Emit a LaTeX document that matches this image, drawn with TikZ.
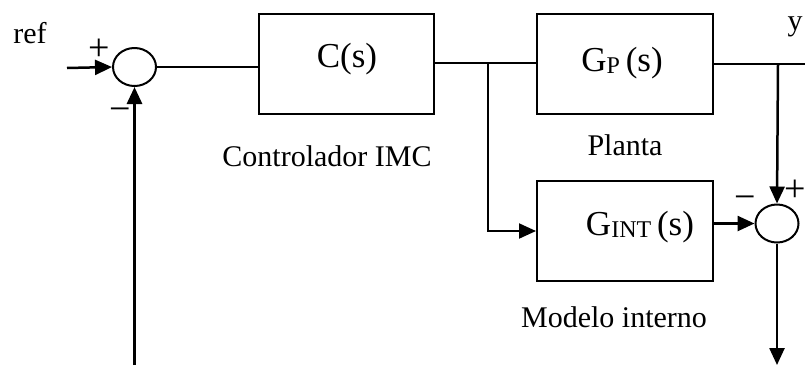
\documentclass[tikz,border=0pt]{standalone}
\usepackage{fontspec}
\setmainfont{Liberation Serif}
\usetikzlibrary{arrows.meta,shapes.geometric}
\newcommand{\subs}[1]{\raisebox{-2pt}{\fontsize{24}{24}\selectfont #1}}
\begin{document}
\begin{tikzpicture}[x=1pt,y=-1pt,
  every node/.style={font=\fontsize{30}{34}\selectfont},
  blk/.style={draw,line width=2pt,minimum width=176pt,minimum height=100pt,inner sep=0pt},
  sumj/.style={draw,line width=2pt,ellipse,minimum width=43pt,minimum height=38pt,inner sep=0pt},
  wire/.style={line width=2pt},
  arr/.style={line width=2.5pt,-{Triangle[length=17pt,width=15pt]}},
  lbl/.style={inner sep=0pt},
  blbl/.style={inner sep=0pt,font=\fontsize{35}{40}\selectfont},
  sgn/.style={inner sep=0pt,font=\fontsize{38}{38}\selectfont}]
\useasboundingbox (0,0) rectangle (805,365);
% summing junctions
\node[sumj] (s1) at (134.5,67) {};
\node[sumj] (s2) at (777,223.5) {};
% blocks
\node[blk,minimum width=175pt] (C) at (346.5,63.5) {};
\node[blk] (GP) at (625,64) {};
\node[blk] (GI) at (625,230.5) {};
\node[blbl] (Ct) at (347,59) {C(s)};
\node[blbl] (GPt) at (622,63) {G\subs{P}\,(s)};
\node[blbl] (GIt) at (640,227) {G\subs{INT}\,(s)};
% labels
\node[lbl] (ref) at (30,33) {ref};
\node[lbl] (y) at (795,27) {y};
\node[sgn] (p1) at (99,50) {+};
\node[sgn] (m1) at (120,115) {\textminus};
\node[sgn] (p2) at (795,191) {+};
\node[sgn] (m2) at (745,203) {\textminus};
\node[lbl] (ctl) at (327,156) {Controlador IMC};
\node[lbl] (pl) at (625,145) {Planta};
\node[lbl] (mi) at (614,317) {Modelo interno};
% coordinates
\coordinate (in) at (67,68);
\coordinate (fb) at (134.5,365);
\coordinate (b1) at (488,63);
\coordinate (b1d) at (488,231);
\coordinate (b2) at (778,64);
\coordinate (yend) at (805,64);
\coordinate (out) at (777,365);
% connectors
\draw[arr] (in) -- (s1.west);
\draw[arr,line width=3pt] (fb) -- (s1.south);
\draw[wire] (s1.east) -- (C.west |- s1.east);
\draw[wire] (C.east |- b1) -- (GP.west |- b1);
\draw[arr,line width=2pt] (b1) -- (b1d) -- (GI.west |- b1d);
\draw[wire] (GP.east |- b2) -- (yend);
\draw[arr] (b2) -- (s2.north);
\draw[arr] (GI.east |- s2.west) -- (s2.west);
\draw[arr] (s2.south) -- (out);
\end{tikzpicture}
\end{document}
